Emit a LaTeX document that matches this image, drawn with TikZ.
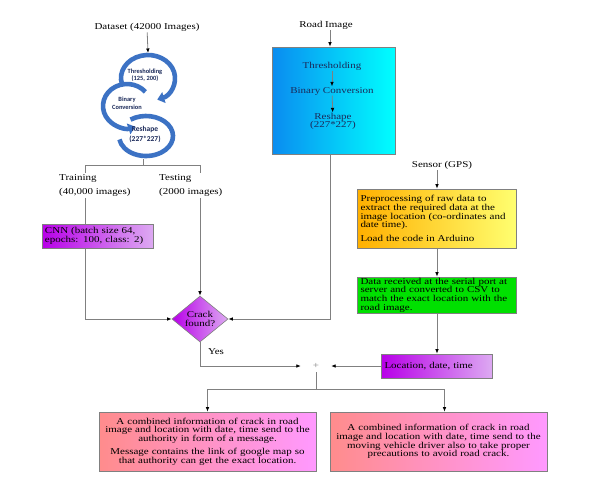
\documentclass[tikz,border=0pt]{standalone}
\usepackage{fontspec}
\setmainfont{Liberation Serif}[FakeStretch=1.22]
\newfontfamily\cycfont{Carlito}
\usetikzlibrary{shapes.geometric,arrows.meta}
\definecolor{lineg}{HTML}{808080}
\definecolor{cycblue}{HTML}{3C72C4}
\definecolor{navy}{HTML}{1B2A5A}
\definecolor{purL}{HTML}{B800E8}
\definecolor{purR}{HTML}{DDAAF2}
\definecolor{yelL}{HTML}{FFB000}
\definecolor{yelR}{HTML}{FFFF70}
\definecolor{grn}{HTML}{00E000}
\definecolor{bluL}{HTML}{0A8CF0}
\definecolor{bluR}{HTML}{00FFFF}
\definecolor{pnkL}{HTML}{FF8C8C}
\definecolor{pnkR}{HTML}{FF99FF}
\newcommand\boxfont{\fontsize{9}{8.6}\selectfont}

\begin{document}
\begin{tikzpicture}[x=1pt,y=-1pt,
		line/.style={draw=lineg,line width=0.8pt},
		arr/.style={line,-{Latex[length=4.5pt,width=3.6pt,color=black]}},
		box/.style={draw=lineg,line width=0.6pt,inner xsep=3pt,inner ysep=0pt,font=\boxfont},
		label/.style={font=\boxfont,inner sep=1pt},
		cyc/.style={draw=cycblue,line width=4.6pt},
		cyctext/.style={font=\cycfont\bfseries\fontsize{6.4}{7.5}\selectfont,align=center,text=navy,inner sep=0pt},
		roadstep/.style={font=\boxfont,text=navy,inner sep=0.5pt,align=center}]
		\path[fill=white] (0,0) rectangle (598,483);

		\node[label] (dataset) at (147,27) {Dataset (42000 Images)};
		\coordinate (cyctop) at (148,53);
		\draw[arr] (dataset) -- (cyctop);
		\draw[cyc,-{Triangle[length=7pt,width=11pt]}] (148,78) ++(165:27 and 23) arc[start angle=165,end angle=430,x radius=27,y radius=23];
		\draw[cyc,-{Triangle[length=7pt,width=11pt]}] (127,106) ++(-40:24 and 22) arc[start angle=-40,end angle=-290,x radius=24,y radius=22];
		\draw[cyc] (146,136) ++(-125:27 and 20) arc[start angle=-125,end angle=170,x radius=27,y radius=20];
		\node[cyctext] (cycthr) at (145,75) {Thresholding\\(125, 200)};
		\node[cyctext] (cycbin) at (127,103.5) {Binary\\Conversion};
		\node[cyctext,font=\cycfont\bfseries\fontsize{7.5}{10}\selectfont] (cycrsh) at (145,134) {Reshape\\(227*227)};

		\coordinate (cycbot) at (143,159);
		\coordinate (split) at (143,165);
		\coordinate (trn) at (85,165);
		\coordinate (tst) at (200,165);

		\node[label] (roadlbl) at (326,25) {Road Image};
		\node[box,left color=bluL,right color=bluR,minimum width=123pt,minimum height=107pt] (roadbox) at (333.5,100.5) {};
		\node[roadstep] (rthr) at (332,66) {Thresholding};
		\node[roadstep] (rbin) at (332,91) {Binary Conversion};
		\node[roadstep] (rrsh) at (333,121.5) {\fontsize{9}{10.5}\selectfont Reshape\\(227*227)};
		\draw[arr] (rthr) -- (rbin);
		\draw[arr] (rbin) -- (rrsh);
		\coordinate (rbx) at (330,0);

		\node[box,left color=purL,right color=purR,minimum width=111pt,minimum height=24pt,text width=105pt,align=left] (cnn) at (97.5,236) {CNN (batch size 64,\\epochs: 100, class: 2)};
		\node[diamond,box,left color=purL,right color=purR,minimum width=56pt,minimum height=46pt,inner sep=0pt,align=center] (crack) at (200,319) {Crack\\found?};

		\node[label] (sensor) at (442,165) {Sensor (GPS)};
		\node[box,left color=yelL,right color=yelR,minimum width=159pt,minimum height=59pt,text width=153pt,align=left] (prep) at (437,218.5) {Preprocessing of raw data to\\extract the required data at the\\image location (co-ordinates and\\date time).\\[5pt]Load the code in Arduino};
		\node[box,fill=grn,minimum width=159pt,minimum height=36pt,text width=153pt,align=left] (serial) at (437,295) {Data received at the serial port at\\server and converted to CSV to\\match the exact location with the\\road image.};
		\node[box,left color=purL,right color=purR,minimum width=111pt,minimum height=24pt,text width=105pt,align=left] (loc) at (437,366) {Location, date, time};
		\node[font=\fontsize{9}{9}\selectfont,text=lineg,minimum width=30pt,minimum height=12pt,inner sep=0pt] (plus) at (316,366) {+};
		\node[label] (yes) at (216,352) {Yes};

		\node[box,left color=pnkL,right color=pnkR,minimum width=217pt,minimum height=59pt,text width=211pt,align=center] (alert) at (207.5,441.5) {A combined information of crack in road\\image and location with date, time send to the\\authority in form of a message.\\[5pt]Message contains the link of google map so\\that authority can get the exact location.};
		\node[box,left color=pnkL,right color=pnkR,minimum width=217pt,minimum height=59pt,text width=211pt,align=center] (driver) at (438.5,441.5) {A combined information of crack in road\\image and location with date, time send to the\\moving vehicle driver also to take proper\\precautions to avoid road crack.};
		\coordinate (join) at (316,389);

		\draw[line] (cycbot) -- (split);
		\draw[line] (trn) -- (tst);
		\draw[line] (trn) -- (cnn.north -| trn);
		\draw[arr] (cnn.south -| trn) |- (crack.west);
		\draw[arr] (tst) -- (crack.north);
		\draw[arr] (roadlbl.south -| rbx) -- (roadbox.north -| rbx);
		\draw[arr] (roadbox.south -| rbx) |- (crack.east);
		\draw[arr] (sensor.south -| prep) -- (prep.north);
		\draw[arr] (prep) -- (serial);
		\draw[arr] (serial) -- (loc);
		\draw[arr] (crack.south) |- (plus.west);
		\draw[arr] (loc.west) -- (plus.east);
		\draw[line] (plus.south) -- (join);
		\draw[arr] (join) -| (alert.north);
		\draw[arr] (join) -| ([xshift=6pt]driver.north);

		\node[label,fill=white,anchor=west,align=left] (trainlbl) at (58,185.5) {Training\\[6pt](40,000 images)};
		\node[label,fill=white,anchor=west,align=left] (testlbl) at (158,185.5) {Testing\\[6pt](2000 images)};
	\end{tikzpicture}
\end{document}
